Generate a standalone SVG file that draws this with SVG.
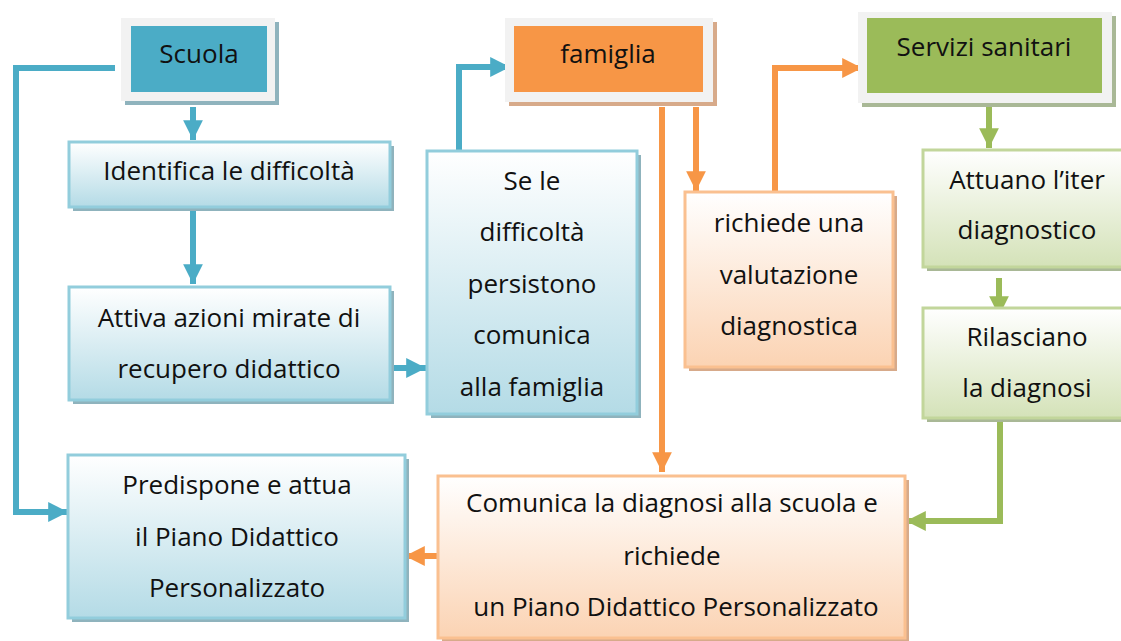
<svg xmlns="http://www.w3.org/2000/svg" width="1121" height="641" viewBox="0 0 1121 641">
<defs>
<linearGradient id="gB" x1="0" y1="0" x2="0" y2="1"><stop offset="0" stop-color="#ffffff"/><stop offset="1" stop-color="#b4dbe6"/></linearGradient>
<linearGradient id="gO" x1="0" y1="0" x2="0" y2="1"><stop offset="0" stop-color="#ffffff"/><stop offset="1" stop-color="#fbd3b3"/></linearGradient>
<linearGradient id="gG" x1="0" y1="0" x2="0" y2="1"><stop offset="0" stop-color="#ffffff"/><stop offset="1" stop-color="#d4e2b8"/></linearGradient>
<marker id="aB" viewBox="0 0 10 10" refX="10" refY="5" markerWidth="3.3" markerHeight="3.3" orient="auto" markerUnits="strokeWidth"><path d="M0,0 L10,5 L0,10 Z" fill="#4bacc6"/></marker>
<marker id="aO" viewBox="0 0 10 10" refX="10" refY="5" markerWidth="3.3" markerHeight="3.3" orient="auto" markerUnits="strokeWidth"><path d="M0,0 L10,5 L0,10 Z" fill="#f79646"/></marker>
<marker id="aG" viewBox="0 0 10 10" refX="10" refY="5" markerWidth="3.3" markerHeight="3.3" orient="auto" markerUnits="strokeWidth"><path d="M0,0 L10,5 L0,10 Z" fill="#9bbb59"/></marker>
</defs>
<style>
text{font-family:"Open Sans","Liberation Sans",sans-serif;font-size:26px;fill:#111;text-anchor:middle;}
.frame{fill:#f2f2f2;}
.shB{fill:#8fb3bd;}
.shO{fill:#d7aa8a;}
.shG{fill:#a9b896;}
.bB{fill:url(#gB);stroke:#92cddc;stroke-width:3;}
.bO{fill:url(#gO);stroke:#fac090;stroke-width:3;}
.bG{fill:url(#gG);stroke:#c2d69b;stroke-width:3;}
.cB{fill:none;stroke:#4bacc6;stroke-width:6;}
.cO{fill:none;stroke:#f79646;stroke-width:6;}
.cG{fill:none;stroke:#9bbb59;stroke-width:6;}
</style>
<g id="connectors">
<path class="cB" d="M115,68 H16 V512 H68" marker-end="url(#aB)"/>
<path class="cB" d="M193,107 V140" marker-end="url(#aB)"/>
<path class="cB" d="M193,208 V284" marker-end="url(#aB)"/>
<path class="cB" d="M391,368 H426" marker-end="url(#aB)"/>
<path class="cB" d="M459,150 V67 H510" marker-end="url(#aB)"/>
<path class="cO" d="M662,107 V472" marker-end="url(#aO)"/>
<path class="cO" d="M696,107 V191" marker-end="url(#aO)"/>
<path class="cO" d="M775,191 V68 H862" marker-end="url(#aO)"/>
<path class="cO" d="M437,556 H405" marker-end="url(#aO)"/>
<path class="cG" d="M989,107 V148" marker-end="url(#aG)"/>
<path class="cG" d="M999,278 V316" marker-end="url(#aG)"/>
<path class="cG" d="M1000,420 V521 H906" marker-end="url(#aG)"/>
</g>
<g id="scuola">
<rect x="125" y="22" width="154" height="83" class="shB"/>
<rect x="121" y="18" width="154" height="83" class="frame"/>
<rect x="131" y="26" width="136" height="66" fill="#4bacc6"/>
<text x="199" y="63">Scuola</text>
</g>
<g id="famiglia">
<rect x="509" y="22" width="208" height="84" class="shO"/>
<rect x="505" y="18" width="208" height="84" class="frame"/>
<rect x="514" y="26" width="189" height="66" fill="#f79646"/>
<text x="608" y="63">famiglia</text>
</g>
<g id="servizi">
<rect x="862" y="16" width="254" height="91" class="shG"/>
<rect x="858" y="12" width="254" height="91" class="frame"/>
<rect x="867" y="18" width="235" height="75" fill="#9bbb59"/>
<text x="984" y="56">Servizi sanitari</text>
</g>
<g id="identifica">
<rect x="73" y="146" width="321" height="65" class="shB"/>
<rect x="69" y="142" width="321" height="65" class="bB"/>
<text x="229" y="180">Identifica le difficoltà</text>
</g>
<g id="attiva">
<rect x="73" y="291" width="321" height="113" class="shB"/>
<rect x="69" y="287" width="321" height="113" class="bB"/>
<text x="229" y="327">Attiva azioni mirate di</text>
<text x="229" y="378">recupero didattico</text>
</g>
<g id="sele">
<rect x="431" y="155" width="210" height="263" class="shB"/>
<rect x="427" y="151" width="210" height="263" class="bB"/>
<text x="532" y="190">Se le</text>
<text x="532" y="241">difficoltà</text>
<text x="532" y="293">persistono</text>
<text x="532" y="344">comunica</text>
<text x="532" y="396">alla famiglia</text>
</g>
<g id="richiede">
<rect x="689" y="196" width="208" height="175" class="shO"/>
<rect x="685" y="192" width="208" height="175" class="bO"/>
<text x="789" y="232">richiede una</text>
<text x="789" y="284">valutazione</text>
<text x="789" y="335">diagnostica</text>
</g>
<g id="attuano">
<rect x="927" y="154" width="200" height="117" class="shG"/>
<rect x="923" y="150" width="200" height="117" class="bG"/>
<text x="1027" y="189">Attuano l’iter</text>
<text x="1027" y="239">diagnostico</text>
</g>
<g id="rilasciano">
<rect x="927" y="312" width="200" height="110" class="shG"/>
<rect x="923" y="308" width="200" height="110" class="bG"/>
<text x="1027" y="346">Rilasciano</text>
<text x="1027" y="397">la diagnosi</text>
</g>
<g id="predispone">
<rect x="72" y="459" width="337" height="163" class="shB"/>
<rect x="68" y="455" width="337" height="163" class="bB"/>
<text x="237" y="494">Predispone e attua</text>
<text x="237" y="546">il Piano Didattico</text>
<text x="237" y="597">Personalizzato</text>
</g>
<g id="comunica">
<rect x="442" y="480" width="467" height="162" class="shO"/>
<rect x="438" y="476" width="467" height="162" class="bO"/>
<text x="672" y="512">Comunica la diagnosi alla scuola e</text>
<text x="672" y="565">richiede</text>
<text x="676" y="616">un Piano Didattico Personalizzato</text>
</g>
</svg>
